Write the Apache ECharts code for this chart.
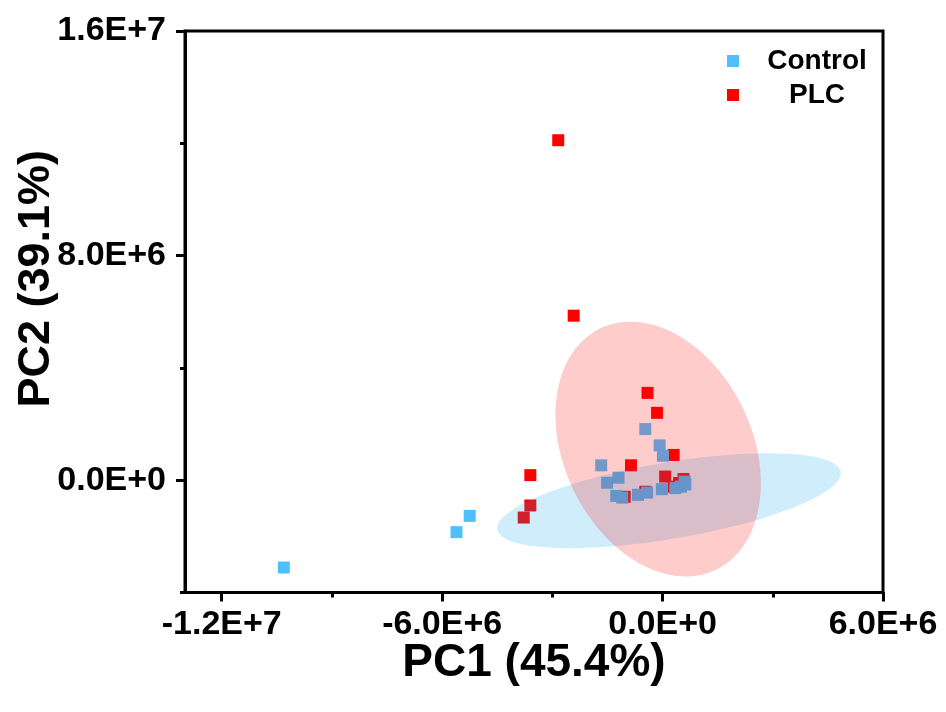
<!DOCTYPE html>
<html>
<head>
<meta charset="utf-8">
<script src="https://cdn.jsdelivr.net/npm/echarts@6/dist/echarts.min.js"></script>
<style>
html,body{margin:0;padding:0;background:#fff;}
#chart{width:946px;height:712px;}
</style>
</head>
<body>
<div id="chart"></div>
<script>
// ---- data (PC1, PC2) ----
const controlPC1 = [-10.31e6, -5.61e6, -5.25e6, -0.47e6, -0.08e6, 0.01e6, -1.67e6, -1.20e6, -1.51e6, 0.60e6, 0.50e6, 0.35e6, -0.02e6, -0.42e6, -0.67e6, -1.10e6, -1.26e6, 0.62e6];
const controlPC2 = [-3.11e6, -1.85e6, -1.27e6, 1.82e6, 1.24e6, 0.87e6, 0.53e6, 0.09e6, -0.09e6, -0.05e6, -0.23e6, -0.28e6, -0.32e6, -0.44e6, -0.52e6, -0.62e6, -0.56e6, -0.15e6];
const plcPC1 = [-2.84e6, -2.42e6, -0.41e6, -0.15e6, 0.30e6, -0.86e6, -3.60e6, -3.60e6, -3.78e6, 0.07e6, 0.57e6, 0.30e6, -0.47e6, -1.03e6, 0.45e6];
const plcPC2 = [12.11e6, 5.86e6, 3.11e6, 2.40e6, 0.90e6, 0.53e6, 0.18e6, -0.90e6, -1.33e6, 0.13e6, 0.04e6, -0.23e6, -0.41e6, -0.59e6, -0.10e6];
// confidence ellipses: [centerX, centerY, axis1X, axis1Y, axis2X, axis2Y] in data units
const controlEllipse = [0.174e6, -0.73e6, 4.674e6, 1.028e6, 0.172e6, -1.342e6];
const plcEllipse = [-0.12e6, 1.11e6, -1.574e6, 4.30e6, 2.31e6, 1.45e6];
// axes
const xMin = -13e6, xMax = 6e6, yMin = -4e6, yMax = 16e6;
const xMajor = [-12e6, -6e6, 0, 6e6];
const xMinor = [-9e6, -3e6, 3e6];
const yMajor = [0, 8e6, 16e6];
const yMinor = [-4e6, 4e6, 12e6];
const seriesNames = ['Control', 'PLC'];
const xTitle = 'PC1 (45.4%)';
const yTitle = 'PC2 (39.1%)';

const colControl = '#4FC0FF';
const colPLC = '#FF0000';

function sci(v) {
  if (v === 0) return '0.0E+0';
  const e = Math.floor(Math.log10(Math.abs(v)) + 1e-9);
  const m = v / Math.pow(10, e);
  return m.toFixed(1) + 'E+' + e;
}
function zip(a, b) { return a.map((v, i) => [v, b[i]]); }

const FONT = "'Liberation Sans', Arial, sans-serif";
const gridPos = { left: 185, right: 63, top: 31, bottom: 119.5, containLabel: false, outerBoundsMode: 'none' };

function ellipseRender(params, api) {
  const e = params.dataIndex === 0 ? controlEllipse : plcEllipse;
  const pts = [];
  const N = 120;
  for (let i = 0; i < N; i++) {
    const t = i / N * Math.PI * 2;
    const x = e[0] + Math.cos(t) * e[2] + Math.sin(t) * e[4];
    const y = e[1] + Math.cos(t) * e[3] + Math.sin(t) * e[5];
    pts.push(api.coord([x, y]));
  }
  return {
    type: 'polygon',
    shape: { points: pts },
    style: { fill: params.dataIndex === 0 ? 'rgba(5,160,240,0.19)' : 'rgba(255,0,0,0.2)', stroke: null }
  };
}

const chart = echarts.init(document.getElementById('chart'), null, { renderer: 'canvas' });
chart.setOption({
  animation: false,
  backgroundColor: '#fff',
  grid: [
    Object.assign({ show: true, borderColor: '#000', borderWidth: 3, backgroundColor: 'transparent' }, gridPos),
    Object.assign({}, gridPos)
  ],
  legend: {
    data: seriesNames,
    orient: 'vertical',
    left: 722,
    top: 42,
    itemWidth: 12,
    itemHeight: 12,
    itemGap: 6,
    icon: 'rect',
    formatter: '{a|{name}}',
    textStyle: {
      rich: { a: { width: 146, align: 'center', fontSize: 28, fontWeight: 'bold', fontFamily: FONT, color: '#000', lineHeight: 32 } }
    }
  },
  xAxis: [{
    type: 'value', gridIndex: 0, min: xMin, max: xMax, position: 'bottom',
    name: xTitle, nameLocation: 'middle', nameGap: 48, nameMoveOverlap: false,
    nameTextStyle: { fontSize: 46, fontWeight: 'bold', fontFamily: FONT, color: '#000' },
    axisLine: { show: true, onZero: false, lineStyle: { color: '#000', width: 3 } },
    axisTick: { show: true, inside: false, length: 9, customValues: xMajor, lineStyle: { color: '#000', width: 3 } },
    axisLabel: { customValues: xMajor, formatter: sci, fontSize: 34, fontWeight: 'bold', fontFamily: FONT, color: '#000', margin: 15 },
    splitLine: { show: false }
  }, {
    type: 'value', gridIndex: 1, min: xMin, max: xMax, position: 'bottom',
    axisLine: { show: false, onZero: false },
    axisTick: { show: true, inside: false, length: 5, customValues: xMinor, lineStyle: { color: '#000', width: 3 } },
    axisLabel: { show: false },
    splitLine: { show: false }
  }],
  yAxis: [{
    type: 'value', gridIndex: 0, min: yMin, max: yMax, position: 'left',
    name: yTitle, nameLocation: 'middle', nameGap: 126, nameRotate: 90, nameMoveOverlap: false,
    nameTextStyle: { fontSize: 45, fontWeight: 'bold', fontFamily: FONT, color: '#000', padding: [0, 0, 0, 66] },
    axisLine: { show: true, onZero: false, lineStyle: { color: '#000', width: 3 } },
    axisTick: { show: true, inside: false, length: 9, customValues: yMajor, lineStyle: { color: '#000', width: 3 } },
    axisLabel: { customValues: yMajor, formatter: sci, fontSize: 34, fontWeight: 'bold', fontFamily: FONT, color: '#000', margin: 19 },
    splitLine: { show: false }
  }, {
    type: 'value', gridIndex: 1, min: yMin, max: yMax, position: 'left',
    axisLine: { show: false, onZero: false },
    axisTick: { show: true, inside: false, length: 5, customValues: yMinor, lineStyle: { color: '#000', width: 3 } },
    axisLabel: { show: false },
    splitLine: { show: false }
  }],
  series: [{
    name: seriesNames[1], type: 'scatter', xAxisIndex: 0, yAxisIndex: 0,
    symbol: 'rect', symbolSize: 12, itemStyle: { color: colPLC, opacity: 1 },
    data: zip(plcPC1, plcPC2), z: 2
  }, {
    name: seriesNames[0], type: 'scatter', xAxisIndex: 0, yAxisIndex: 0,
    symbol: 'rect', symbolSize: 12, itemStyle: { color: colControl, opacity: 1 },
    data: zip(controlPC1, controlPC2), z: 2
  }, {
    type: 'custom', xAxisIndex: 0, yAxisIndex: 0, z: 3, silent: true,
    renderItem: ellipseRender,
    data: [[controlEllipse[0], controlEllipse[1]], [plcEllipse[0], plcEllipse[1]]]
  }]
});
</script>
</body>
</html>
